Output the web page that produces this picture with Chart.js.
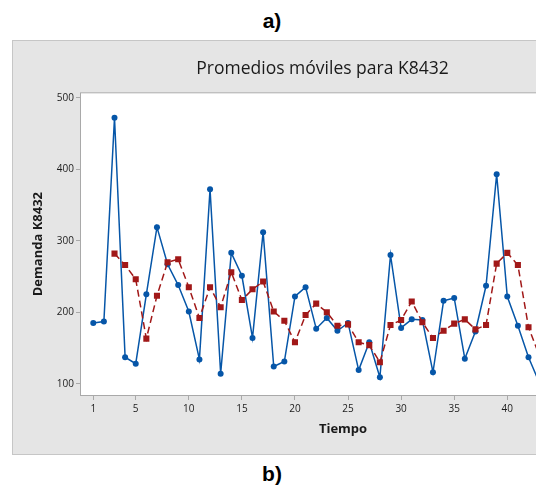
<!DOCTYPE html>
<html>
<head>
<meta charset="utf-8">
<script src="https://cdn.jsdelivr.net/npm/chart.js@4.4.1/dist/chart.umd.min.js"></script>
<style>
  html, body { margin: 0; padding: 0; background: #fff; }
  body { width: 536px; height: 489px; overflow: hidden; position: relative; font-family: "Liberation Sans", Arial, sans-serif; }
  .tag { position: absolute; width: 60px; text-align: center; font-weight: bold; font-size: 21px; color: #000; }
  #panel { position: absolute; left: 12px; top: 40px; width: 618px; height: 413px; background: #e5e5e5; border: 1px solid #c6c6c6; }
  #chart { display: block; }
</style>
</head>
<body>
<div class="tag" style="left:242px; top:9px;">a)</div>
<div id="panel"><canvas id="chart" width="618" height="413"></canvas></div>
<div class="tag" style="left:242px; top:462px;">b)</div>

<script>
// Tiempo (periodo)
const tiempo = [1, 2, 3, 4, 5, 6, 7, 8, 9, 10, 11, 12, 13, 14, 15, 16, 17, 18, 19, 20, 21,
    22, 23, 24, 25, 26, 27, 28, 29, 30, 31, 32, 33, 34, 35, 36, 37, 38, 39, 40, 41, 42, 43];

// Demanda observada K8432
const demanda = [185, 187, 472, 137, 128, 225, 319, 267, 238, 201, 134, 372, 114, 283, 251,
    164, 312, 124, 131, 222, 235, 177, 192, 174, 185, 119, 158, 109, 280, 178, 190, 189, 116,
    216, 220, 135, 173, 237, 393, 222, 181, 137, 102];

// Promedio movil (longitud 3), vacio en los dos primeros periodos
const promedio = [null, null, 282, 266, 246, 163, 223, 270, 274, 235, 192, 235, 207, 256, 217,
    232, 243, 201, 188, 158, 196, 212, 200, 181, 183, 158, 154, 130, 182, 189, 215, 186, 164,
    174, 184, 190, 176, 182, 268, 283, 266, 179, 140];

const xTicks = [1, 5, 10, 15, 20, 25, 30, 35, 40];
const yTicks = [100, 200, 300, 400, 500];

const toPoints = vals => tiempo.map((t, i) => ({ x: t, y: vals[i] }));

// white plot area with a thin grey frame
const plotFrame = {
    id: "plotFrame",
    beforeDatasetsDraw(chart) {
        const { ctx, chartArea: a } = chart;
        ctx.save();
        ctx.fillStyle = "#ffffff";
        ctx.fillRect(a.left, a.top, a.right - a.left, a.bottom - a.top);
        ctx.strokeStyle = "#a9a9a9";
        ctx.lineWidth = 1;
        ctx.strokeRect(a.left + 0.5, a.top + 0.5, a.right - a.left - 1, a.bottom - a.top - 1);
        ctx.restore();
    }
};

const tickFont = { family: "'Open Sans', sans-serif", size: 10 };
const titleFont = { family: "'Open Sans', sans-serif", size: 13, weight: "bold" };

new Chart(document.getElementById("chart"), {
    type: "line",
    data: {
        datasets: [
            {
                label: "Promedio movil",
                data: toPoints(promedio),
                borderColor: "#a11818",
                backgroundColor: "#a11818",
                borderWidth: 1.5,
                borderDash: [7, 4],
                pointStyle: "rect",
                pointRadius: 4.3,
                pointBorderWidth: 0,
                spanGaps: false,
                order: 0
            },
            {
                label: "Demanda",
                data: toPoints(demanda),
                borderColor: "#0656a8",
                backgroundColor: "#0656a8",
                borderWidth: 1.5,
                pointStyle: "circle",
                pointRadius: 3,
                pointBorderWidth: 0,
                order: 1
            }
        ]
    },
    options: {
        responsive: false,
        animation: false,
        layout: { padding: { left: 26, right: 25, top: 0, bottom: 0 } },
        plugins: {
            legend: { display: false },
            tooltip: { enabled: false },
            title: {
                display: true,
                text: "Promedios móviles para K8432",
                color: "#1a1a1a",
                font: { family: "'Open Sans', sans-serif", size: 17.5, weight: "normal" },
                padding: { top: 18, bottom: 12.3 }
            }
        },
        scales: {
            x: {
                type: "linear",
                min: -0.25,
                max: 49.3,
                afterBuildTicks: s => { s.ticks = xTicks.map(v => ({ value: v })); },
                afterFit: s => { s.height = 58; },
                grid: { drawOnChartArea: false, drawTicks: true, tickLength: 4, color: "#a9a9a9" },
                border: { display: false },
                ticks: { color: "#1c1c1c", font: tickFont, padding: 3, maxRotation: 0 },
                title: { display: true, text: "Tiempo", color: "#1a1a1a", font: titleFont, padding: { top: 0, bottom: 17 } }
            },
            y: {
                min: 82.8,
                max: 507.6,
                afterBuildTicks: s => { s.ticks = yTicks.map(v => ({ value: v })); },
                afterFit: s => { s.width = 41; },
                grid: { drawOnChartArea: false, drawTicks: true, tickLength: 4, color: "#a9a9a9" },
                border: { display: false },
                ticks: { color: "#1c1c1c", font: tickFont, padding: 2 },
                title: { display: true, text: "Demanda K8432", color: "#1a1a1a", font: titleFont, padding: { top: -9, bottom: 0 } }
            }
        }
    },
    plugins: [plotFrame]
});
</script>
</body>
</html>
